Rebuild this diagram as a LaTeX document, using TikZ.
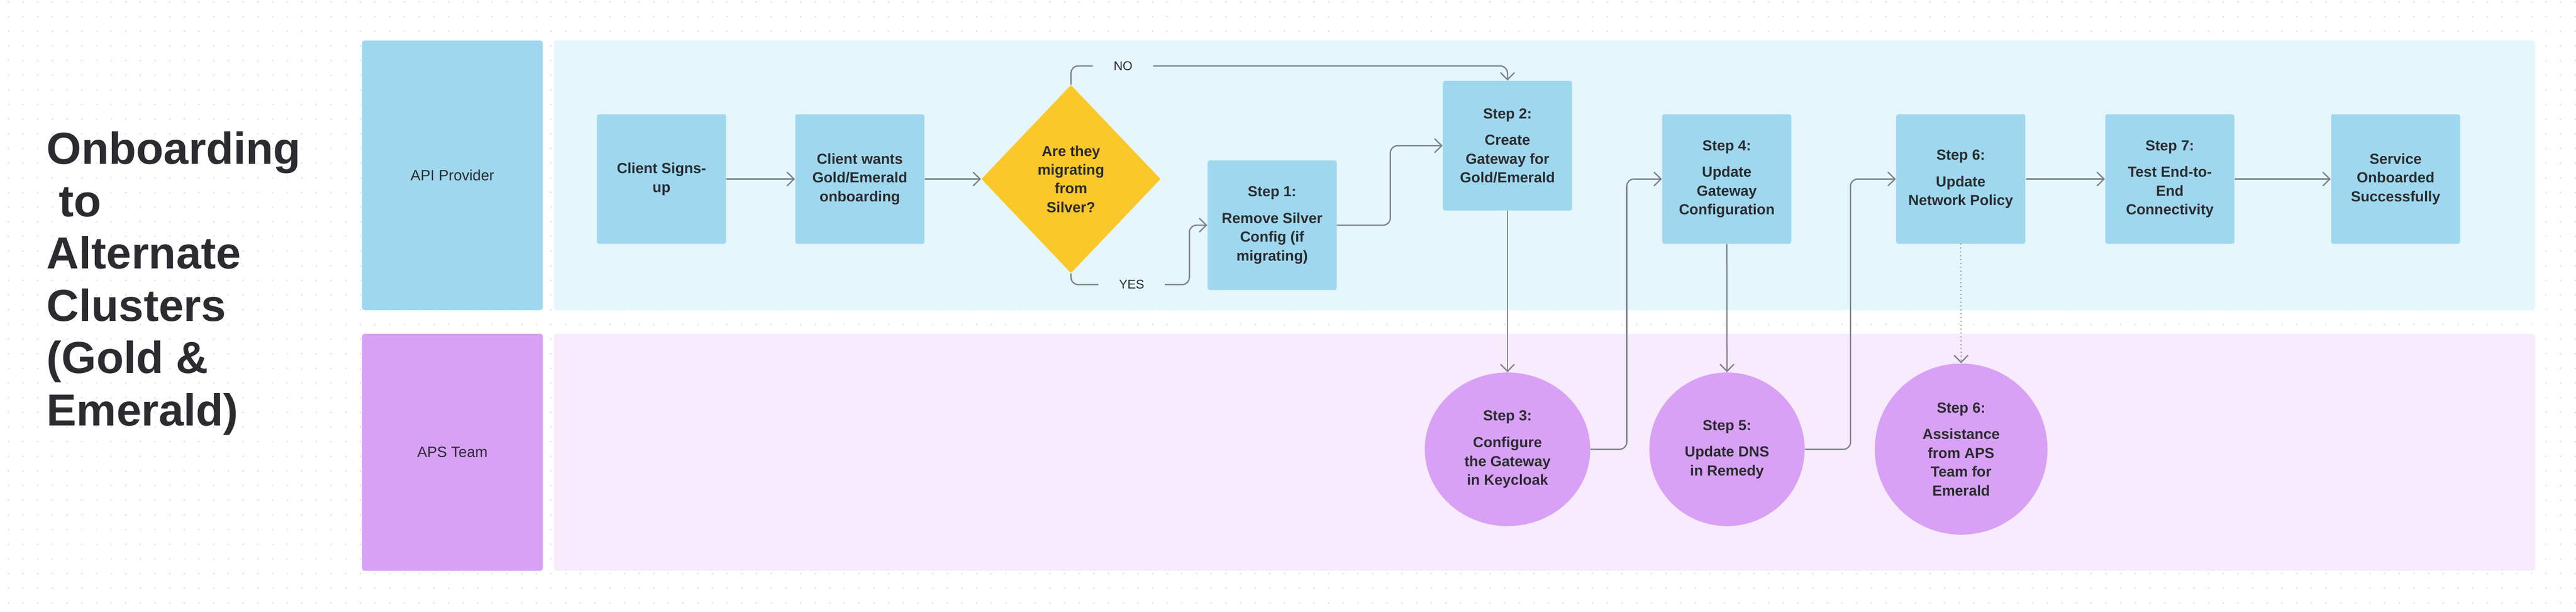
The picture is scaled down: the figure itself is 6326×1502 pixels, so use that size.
\documentclass[tikz,border=0pt]{standalone}
\usepackage{fontspec}
\setmainfont{Liberation Sans}
\usepackage{tikz}
\usetikzlibrary{positioning, arrows.meta, shapes.geometric}

\definecolor{laneblue}{HTML}{9FD8EE}
\definecolor{lanebluebg}{HTML}{E5F6FD}
\definecolor{lanepurple}{HTML}{D8A1F5}
\definecolor{lanepurplebg}{HTML}{F7EBFD}
\definecolor{decideyellow}{HTML}{FBC82A}
\definecolor{linegray}{HTML}{7D818A}
\definecolor{ink}{HTML}{2B2C30}
\definecolor{dotgray}{HTML}{DCDFE5}

\newcommand{\stepfont}{\fontsize{10.2}{13.1}\selectfont\bfseries}
\newcommand{\lanefont}{\fontsize{10.4}{13.1}\selectfont}
\newcommand{\branchfont}{\fontsize{8.8}{11}\selectfont}
\newcommand{\titlefont}{\fontsize{31.3}{36.5}\selectfont\bfseries}

\begin{document}
\begin{tikzpicture}[x=0.01cm, y=-0.01cm,
		lanelabel/.style={rectangle, rounded corners=2pt, minimum width=4.44cm, font=\lanefont, text=ink},
		laneback/.style={rectangle, rounded corners=2pt, minimum width=48.62cm},
		stepbox/.style={rectangle, rounded corners=1.5pt, fill=laneblue, minimum width=3.17cm, minimum height=3.18cm, inner sep=0pt, align=center, font=\stepfont, text=ink},
		apsstep/.style={ellipse, fill=lanepurple, inner sep=0pt, align=center, font=\stepfont, text=ink},
		branch/.style={inner xsep=0.5cm, inner ysep=0pt, font=\branchfont, text=ink},
		link/.style={draw=linegray, line width=0.9pt, rounded corners=5pt},
		flow/.style={link, -{Straight Barb[length=4.8pt, width=9.4pt, line cap=round]}}]
		% Background and dot grid
		\useasboundingbox (0, 0) rectangle (6326, 1502);
		\fill[white] (0, 0) rectangle (6326, 1502);
		\foreach \j in {0,...,41}
			\draw[dotgray, line width=1.2pt, line cap=round, dash pattern=on 0pt off 0.36cm]
				(20.7, {4.7+36*\j}) -- (6326, {4.7+36*\j});
		
		% Title
		\node[anchor=west, align=left, inner sep=0pt, font=\titlefont, text=ink] (title) at (114, 696)
			{Onboarding\\\ to\\Alternate\\Clusters\\(Gold \&\\Emerald)};
		
		% Draw lanes
		\node[lanelabel, fill=laneblue, minimum height=6.62cm] (apilane) at (1111, 430.6) {API Provider};
		\node[laneback, fill=lanebluebg, minimum height=6.62cm] (apiback) at (3793, 430.6) {};
		\node[lanelabel, fill=lanepurple, minimum height=5.82cm] (apslane) at (1111, 1110.8) {APS Team};
		\node[laneback, fill=lanepurplebg, minimum height=5.82cm] (apsback) at (3793, 1110.8) {};
		
		% Steps of the API provider
		\node[stepbox] (signup) at (1624.5, 439.7) {Client Signs-\\up};
		\node[stepbox] (wants) at (2111.5, 439.7) {Client wants\\Gold/Emerald\\onboarding};
		\node[diamond, fill=decideyellow, minimum width=4.40cm, minimum height=4.62cm, inner sep=0pt,
			align=center, font=\stepfont, text=ink] (decide) at (2630, 439.7) {Are they\\migrating\\from\\Silver?};
		\node[stepbox] (step1) at (3124, 553) {Step 1:\\[5.5pt]Remove Silver\\Config (if\\migrating)};
		\node[stepbox] (step2) at (3702, 357.8) {Step 2:\\[5.5pt]Create\\Gateway for\\Gold/Emerald};
		\node[stepbox] (step4) at (4240.5, 439.7) {Step 4:\\[5.5pt]Update\\Gateway\\Configuration};
		\node[stepbox] (step6) at (4815, 439.7) {Step 6:\\[5.5pt]Update\\Network Policy};
		\node[stepbox] (step7) at (5328.5, 439.7) {Step 7:\\[5.5pt]Test End-to-\\End\\Connectivity};
		\node[stepbox] (done) at (5883, 439.7) {Service\\Onboarded\\Successfully};
		
		% Steps of the APS team
		\node[apsstep, minimum width=4.06cm, minimum height=3.77cm] (step3) at (3702, 1103.5) {Step 3:\\[5.5pt]Configure\\the Gateway\\in Keycloak};
		\node[apsstep, minimum width=3.81cm, minimum height=3.77cm] (step5) at (4241, 1103.5) {Step 5:\\[5.5pt]Update DNS\\in Remedy};
		\node[apsstep, minimum width=4.24cm, minimum height=4.20cm] (aps6) at (4816, 1103) {Step 6:\\[5.5pt]Assistance\\from APS\\Team for\\Emerald};
		
		% Branch labels
		\node[branch] (nolbl) at (2758, 162) {NO};
		\node[branch] (yeslbl) at (2779, 699) {YES};
		
		% Add arrows
		\draw[flow] (signup.east) -- (wants.west);
		\draw[flow] (wants.east) -- (decide.west);
		\draw[link] (decide.north) |- (nolbl.west);
		\draw[flow] (nolbl.east) -| (step2.north);
		\draw[link] (decide.south) |- (yeslbl.west);
		\draw[flow] (yeslbl.east) -- ++(60, 0) |- (step1.west);
		\draw[flow] (step1.east) -- ++(131, 0) |- (step2.west);
		\draw[flow] (step2.south) -- (step3.north);
		\draw[flow] (step3.east) -- ++(89, 0) |- (step4.west);
		\draw[flow] (step4.south) -- (step5.north);
		\draw[flow] (step5.east) -- ++(112, 0) |- (step6.west);
		\draw[flow, line cap=round, dash pattern=on 0pt off 2.7pt] (step6.south) -- (aps6.north);
		\draw[flow] (step6.east) -- (step7.west);
		\draw[flow] (step7.east) -- (done.west);
	\end{tikzpicture}
\end{document}
